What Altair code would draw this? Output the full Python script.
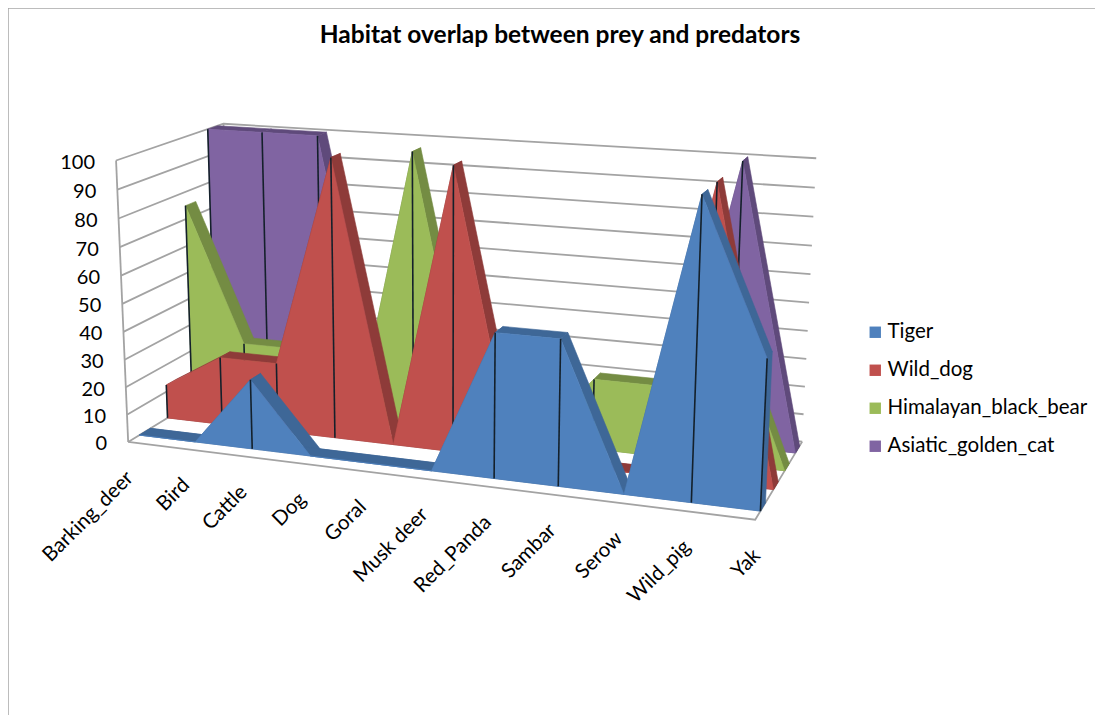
import altair as alt
import numpy as np
import pandas as pd

categories = ["Barking_deer", "Bird", "Cattle", "Dog", "Goral", "Musk deer", "Red_Panda", "Sambar", "Serow", "Wild_pig", "Yak"]
tiger = [0, 0, 25, 0, 0, 0, 50, 50, 0, 100, 50]
wild_dog = [12.5, 25, 25, 100, 0, 100, 0, 0, 0, 100, 0]
black_bear = [75, 25, 25, 0, 100, 0, 0, 25, 25, 55, 0]
golden_cat = [100, 100, 100, 0, 0, 0, 0, 0, 0, 100, 0]
series_names = ["Tiger", "Wild_dog", "Himalayan_black_bear", "Asiatic_golden_cat"]
series_values = [tiger, wild_dog, black_bear, golden_cat]
front_colors = ["#4F81BD", "#C0504D", "#9BBB59", "#8064A2"]
dark_colors = ["#3E6797", "#8E3B39", "#748C43", "#5F4A7B"]
depths = [0.10, 0.36, 0.60, 0.84]
thickness = 0.10
levels = list(range(0, 101, 10))
FONT = "Lato"

# Camera calibration of the oblique view: (category position, depth, value) -> where it lands on the page
view_uvw = [
    (0, 0, 0), (1, 0, 0), (1, 1, 0), (0, 0, 100), (0, 1, 100), (1, 1, 100),
    (.3, .36, 100), (.5, .36, 100), (.4, .6, 100), (.1, .84, 100), (.2, .84, 100), (0, .84, 100),
    (.9, .1, 100), (.9, .36, 100), (.9, .84, 100),
    (.2, .1, 0), (.6, .1, 0), (.7, .1, 0), (.8, .1, 0), (.9, .1, 0), (1, .1, 0), (.1, .1, 0), (.5, .1, 0), (0, .1, 0),
    (0, .36, 0), (.3, .36, 0), (.4, .36, 0), (1, .36, 0), (1, .84, 0), (1, .6, 0),
    (.6, .1, 50), (.7, .1, 50), (1, .1, 50), (.2, .1, 25),
]
view_xy = [
    (129, 440), (757, 518), (803, 442), (117, 159), (223, 124), (817, 158),
    (329, 157), (452, 167), (413, 153), (263, 132), (318, 133), (208, 130),
    (702, 193), (717, 183), (743, 162),
    (252, 449), (494, 479), (558, 487), (625, 495), (692, 503), (760, 512), (195, 442), (432, 472), (140, 436),
    (167, 418), (334, 438), (393, 445), (773, 488), (795, 452), (783, 470),
    (495, 333), (560, 339), (767, 358), (250, 380),
]


def fit_camera(uvw, xy):
    A = []
    for (u, d, v), (x, y) in zip(uvw, xy):
        w = v / 100
        A.append([u, d, w, 1, 0, 0, 0, 0, -x * u, -x * d, -x * w, -x])
        A.append([0, 0, 0, 0, u, d, w, 1, -y * u, -y * d, -y * w, -y])
    A = np.array(A, dtype=float)
    return np.linalg.svd(A)[2][-1].reshape(3, 4)


CAM = fit_camera(view_uvw, view_xy)


def project(u, d, v):
    p = CAM @ np.array([u, d, v / 100, 1.0])
    return float(p[0] / p[2]), float(p[1] / p[2])


X = alt.X("x:Q", scale=alt.Scale(domain=[8, 1095], nice=False, zero=False), axis=None)
Y = alt.Y("y:Q", scale=alt.Scale(domain=[715, 8], nice=False, zero=False), axis=None)
n = len(categories)
U = [i / (n - 1) for i in range(n)]


def polygons(polys):
    rows = []
    for pid, pts in enumerate(polys):
        for k, (x, y) in enumerate(list(pts) + [pts[0]]):
            rows.append({"id": pid, "k": k, "x": x, "y": y})
    return pd.DataFrame(rows)


def fill_layer(polys, color):
    return alt.Chart(polygons(polys)).mark_line(fill=color, stroke=color, strokeWidth=0.6).encode(
        x=X, y=Y, detail="id:N", order="k:Q")


def line_layer(polys, color, width):
    rows = []
    for pid, pts in enumerate(polys):
        for k, (x, y) in enumerate(pts):
            rows.append({"id": pid, "k": k, "x": x, "y": y})
    return alt.Chart(pd.DataFrame(rows)).mark_line(stroke=color, strokeWidth=width).encode(
        x=X, y=Y, detail="id:N", order="k:Q")


layers = []

# chart frame
frame = [[(8, 715), (8, 8), (1095, 8)]]
layers.append(line_layer(frame, "#A6A6A6", 1.5))

# walls, gridlines and floor
grid = []
for v in levels:
    grid.append([project(0, 0, v), project(0, 1, v), project(1, 1, v)])
grid.append([project(0, 0, 0), project(0, 0, 100)])
grid.append([project(0, 1, 0), project(0, 1, 100)])
grid.append([project(0, 0, 0), project(1, 0, 0), project(1, 1, 0)])
layers.append(line_layer(grid, "#A3A3A3", 1.8))

# series, back to front
for idx in [3, 2, 1, 0]:
    vals, d0 = series_values[idx], depths[idx]
    d1 = d0 + thickness
    dark = []
    for i in range(n - 1):
        dark.append([project(U[i], d0, vals[i]), project(U[i + 1], d0, vals[i + 1]),
                     project(U[i + 1], d1, vals[i + 1]), project(U[i], d1, vals[i])])
    dark.append([project(1, d0, vals[-1]), project(1, d1, vals[-1]), project(1, d1, 0), project(1, d0, 0)])
    dark.append([project(0, d0, 0), project(1, d0, 0), project(1, d1, 0), project(0, d1, 0)])
    layers.append(fill_layer(dark, dark_colors[idx]))
    front = [project(u, d0, 0) for u in U] + [project(u, d0, v) for u, v in zip(U[::-1], vals[::-1])]
    layers.append(fill_layer([front], front_colors[idx]))
    drops = [[project(u, d0, 0), project(u, d0, v)] for u, v in zip(U, vals) if v > 0]
    if drops:
        layers.append(line_layer(drops, "#14202B", 1.6))

# value labels
ylab = []
for v in levels:
    x, y = project(0, 0, v)
    ylab.append({"x": x - 21, "y": y + 2.5, "t": str(v)})
layers.append(alt.Chart(pd.DataFrame(ylab)).mark_text(align="right", baseline="middle", font=FONT, fontSize=20, color="#000000").encode(x=X, y=Y, text="t:N"))

# category labels
xlab = []
for u, c in zip(U, categories):
    x, y = project(u, 0, 0)
    xlab.append({"x": x + 2, "y": y + 33, "t": c})
layers.append(alt.Chart(pd.DataFrame(xlab)).mark_text(align="right", baseline="middle", angle=315, font=FONT, fontSize=20.5, color="#000000").encode(x=X, y=Y, text="t:N"))

# title
layers.append(alt.Chart(pd.DataFrame({"x": [560], "y": [36], "t": ["Habitat overlap between prey and predators"]})).mark_text(
    align="center", baseline="middle", font=FONT, fontSize=24.5, fontWeight="bold", color="#000000").encode(x=X, y=Y, text="t:N"))

# legend
legend_df = pd.DataFrame({"series": series_names, "x": [129] * 4, "y": [440] * 4})
layers.append(alt.Chart(legend_df).mark_point(filled=True, shape="square", size=0, opacity=1).encode(
    x=X, y=Y,
    color=alt.Color("series:N", scale=alt.Scale(domain=series_names, range=front_colors),
                    legend=alt.Legend(title=None, orient="none", legendX=857, legendY=314, symbolType="square",
                                      symbolSize=130, symbolOpacity=1, labelFont=FONT, labelFontSize=20.5, labelColor="#000000",
                                      rowPadding=17, labelOffset=2, symbolStrokeWidth=0, labelLimit=260))))

chart = alt.layer(*layers).properties(width=1087, height=707, padding=0, autosize=alt.AutoSizeParams(type="none")).configure_view(stroke=None)
chart.save("out.html", embed_options={"renderer": "svg", "actions": False})
